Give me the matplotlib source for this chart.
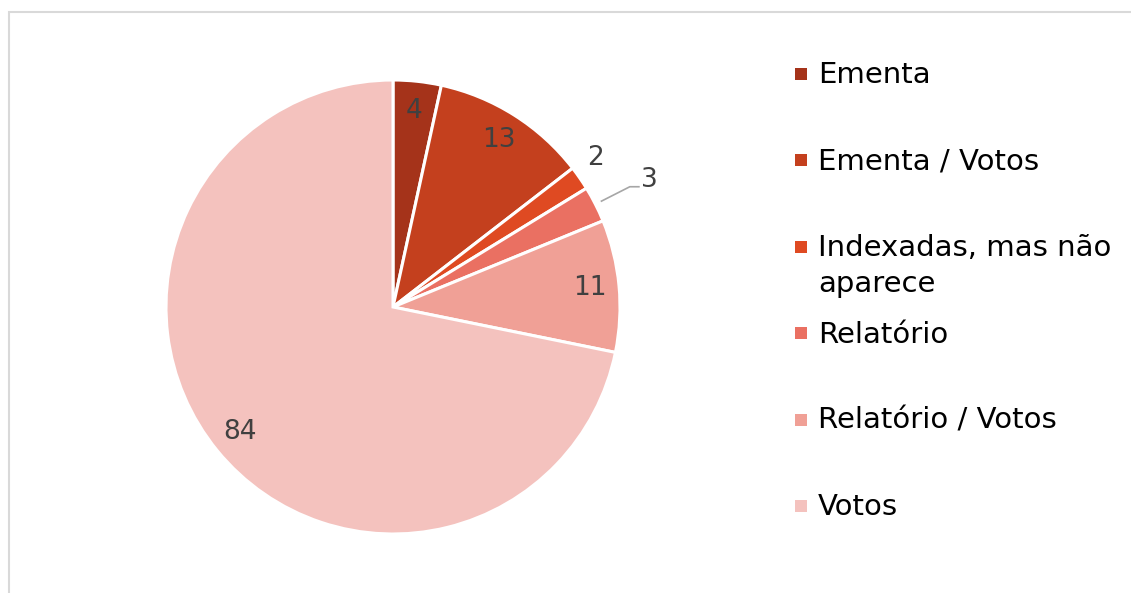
#!/usr/bin/env python3
"""
plot.py
Pie chart of where the indexed terms appear
"""
import numpy as np
import matplotlib.pyplot as plt
from matplotlib.patches import Rectangle

categories = ['Ementa', 'Ementa / Votos', 'Indexadas, mas não\naparece',
              'Relatório', 'Relatório / Votos', 'Votos']
values = [4, 13, 2, 3, 11, 84]
colors = ['#A5331A', '#C4401E', '#DF4A22', '#EA7062', '#F0A096', '#F4C2BE']

W, H = 1131, 593


def main():
    fig = plt.figure(figsize=(W / 100, H / 100), dpi=100)
    # light frame around the chart area (cut at right and bottom)
    fig.patches.append(Rectangle((8.5 / W, -0.1), 1.2, (H - 12.5) / H + 0.1,
                                 transform=fig.transFigure, fill=False,
                                 edgecolor='#D9D9D9', linewidth=1.5))

    ax = fig.add_axes([166 / W, 59 / H, 454 / W, 454 / H])
    wedges, _ = ax.pie(values, colors=colors, startangle=90, counterclock=False,
                       radius=1, wedgeprops=dict(edgecolor='white', linewidth=2.2))
    ax.set_xlim(-1, 1)
    ax.set_ylim(-1, 1)
    ax.set_aspect('equal')
    ax.axis('off')

    # data labels
    total = sum(values)
    cum = np.cumsum(values) - np.array(values) / 2
    for i, v in enumerate(values):
        ang = np.deg2rad(90 - cum[i] / total * 360)
        c, s = np.cos(ang), np.sin(ang)
        if v == 2:
            ax.text(1.10 * c - 0.015, 1.10 * s + 0.03, str(v), ha='center',
                    va='center', fontsize=19, color='#404040')
        elif v == 3:
            ex, ey = 1.17 * c, 1.17 * s
            ax.plot([1.03 * c, ex, ex + 0.04], [1.03 * s, ey, ey],
                    color='#A6A6A6', linewidth=1.2, clip_on=False)
            ax.text(ex + 0.05, ey + 0.03, str(v), ha='left', va='center',
                    fontsize=19, color='#404040')
        else:
            ax.text(0.87 * c, 0.87 * s, str(v), ha='center', va='center',
                    fontsize=19, color='#404040')

    # legend: square marker + label, rows evenly spaced, aligned to first line
    step = 86.4
    for i, (name, col) in enumerate(zip(categories, colors)):
        yc = 74 + step * i
        fig.patches.append(Rectangle((795 / W, 1 - (yc + 6) / H), 12 / W, 12 / H,
                                     transform=fig.transFigure,
                                     facecolor=col, edgecolor='none'))
        for k, line in enumerate(name.split('\n')):
            fig.text(818 / W, 1 - (83.3 + step * i + 35.7 * k) / H, line,
                     ha='left', va='baseline', fontsize=21, color='black')

    fig.savefig('out.png', dpi=100)


main()
